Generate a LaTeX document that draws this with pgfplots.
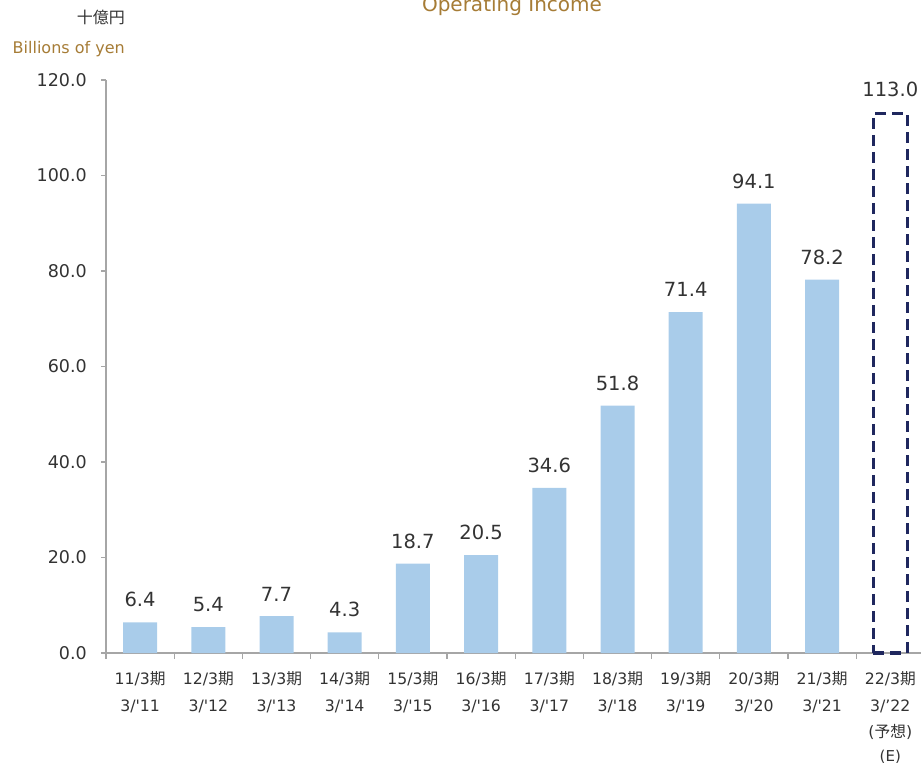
\documentclass[border=0pt]{standalone}
\usepackage{pgfplots}
\pgfplotsset{compat=1.18}
\usepackage{fontspec}
\setmainfont{DejaVu Sans}
\newfontfamily\cjk{Noto Sans CJK JP}
\definecolor{barblue}{HTML}{A9CCEA}
\definecolor{navy}{HTML}{1F275E}
\definecolor{gold}{HTML}{A67C36}
\definecolor{txt}{HTML}{333333}
\definecolor{axgray}{HTML}{A6A6A6}
\begin{document}
\begin{tikzpicture}[x=1pt,y=1pt]
\useasboundingbox (0,0) rectangle (921,766);
\begin{axis}[
  at={(106pt,113pt)}, anchor=south west,
  scale only axis, width=818.4pt, height=573pt,
  xmin=-0.5, xmax=11.5, ymin=0, ymax=120,
  clip=false,
  ybar, bar width=34pt, bar shift=0pt,
  axis x line*=bottom, axis y line*=left,
  axis line style={axgray, line width=1.2pt},
  tick align=outside,
  ytick={0,20,...,120},
  y tick style={axgray, line width=1.2pt},
  major tick length=5pt,
  xtick={0,...,11},
  major x tick style={draw=none},
  minor xtick={-0.5,0.5,...,11.5},
  minor x tick style={axgray, line width=1.2pt},
  minor tick length=6pt,
  /pgf/number format/assume math mode=true,
  yticklabel style={/pgf/number format/.cd, fixed, fixed zerofill, precision=1, /tikz/.cd,
     font=\fontsize{17.5}{20}\selectfont, text=txt, anchor=east, inner sep=0pt, xshift=-14pt},
  xticklabel style={font=\fontsize{15.7}{26.8}\selectfont, text=txt, align=center, anchor=north, inner sep=0pt, yshift=-13pt},
  xticklabels={
    {11/3{\cjk 期}\\3/\textquotesingle 11},
    {12/3{\cjk 期}\\3/\textquotesingle 12},
    {13/3{\cjk 期}\\3/\textquotesingle 13},
    {14/3{\cjk 期}\\3/\textquotesingle 14},
    {15/3{\cjk 期}\\3/\textquotesingle 15},
    {16/3{\cjk 期}\\3/\textquotesingle 16},
    {17/3{\cjk 期}\\3/\textquotesingle 17},
    {18/3{\cjk 期}\\3/\textquotesingle 18},
    {19/3{\cjk 期}\\3/\textquotesingle 19},
    {20/3{\cjk 期}\\3/\textquotesingle 20},
    {21/3{\cjk 期}\\3/\textquotesingle 21},
    {22/3{\cjk 期}\\3/'22\\({\cjk 予想})\\[-3pt]{\fontsize{15}{20}\selectfont(E)}}},
  nodes near coords,
  nodes near coords style={font=\fontsize{19.5}{22}\selectfont, text=txt, anchor=south, inner sep=0pt, yshift=15pt,
     /pgf/number format/.cd, fixed, fixed zerofill, precision=1, assume math mode=true},
]
\addplot[fill=barblue, draw=none] coordinates {
 (0,6.4) (1,5.4) (2,7.7) (3,4.3) (4,18.7) (5,20.5) (6,34.6) (7,51.8) (8,71.4) (9,94.1) (10,78.2)};
\addplot[fill=none, draw=navy, line width=3.5pt, dash pattern=on 11pt off 6pt] coordinates {(11,113.0)};
\end{axis}
\node[anchor=base, text=gold, font=\fontsize{20}{24}\selectfont, inner sep=0pt] at (512,754) {Operating Income};
\node[anchor=base east, text=txt, font=\fontsize{16}{18}\selectfont\cjk, inner sep=0pt] at (125,742) {十億円};
\node[anchor=base east, text=gold, font=\fontsize{16}{18}\selectfont, inner sep=0pt] at (125,712) {Billions of yen};
\end{tikzpicture}
\end{document}
